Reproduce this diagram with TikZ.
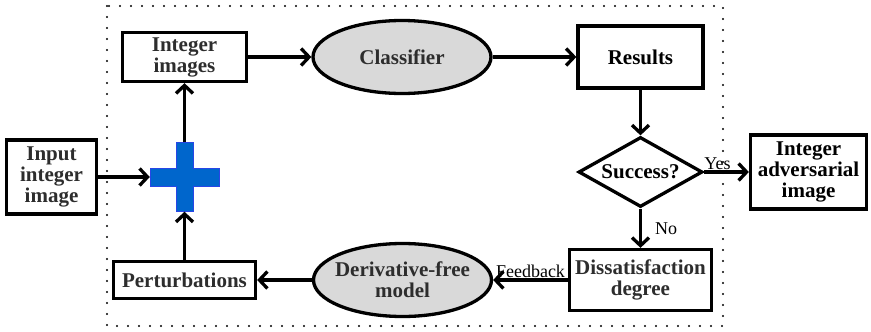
\documentclass[tikz,border=0pt]{standalone}
\usepackage{fontspec}
\setmainfont{Liberation Serif}
\usetikzlibrary{arrows.meta, shapes.geometric}
\definecolor{crossblue}{RGB}{0,102,204}
\definecolor{crossedge}{RGB}{40,70,230}
\definecolor{blobgray}{RGB}{217,217,217}
\definecolor{textgray}{RGB}{45,45,45}

\begin{document}
\begin{tikzpicture}[x=1pt, y=-1pt,
    box/.style={draw, rectangle, line width=3.3pt, align=center, inner sep=0pt,
        font=\fontsize{21}{21}\selectfont\bfseries, text=textgray},
    blob/.style={draw, ellipse, line width=3.3pt, fill=blobgray, align=center,
        inner xsep=-5pt, inner ysep=0pt, minimum width=178pt, minimum height=73pt,
        font=\fontsize{21}{21}\selectfont\bfseries, text=textgray},
    decision/.style={draw, diamond, aspect=1.77, line width=3.3pt, inner sep=0pt,
        minimum width=124pt, minimum height=70pt,
        font=\fontsize{21}{21}\selectfont\bfseries},
    arr/.style={-{Straight Barb[length=8pt,width=17pt]}, line width=3.3pt},
    lbl/.style={font=\fontsize{18}{18}\selectfont, inner sep=1pt}]
    \useasboundingbox (0,0) rectangle (871,332);
    \draw[line width=2.4pt, dash pattern=on 0pt off 11pt, line cap=round] (107,6) rectangle (723,326);

    \node[box, minimum width=90pt, minimum height=74pt] at (51.5, 177) (input) {Input\\integer\\image};
    \node[inner sep=0pt, minimum size=69pt] at (184.5, 177) (plus) {};
    \filldraw[fill=crossblue, draw=crossedge, line width=0.8pt] (plus.center) ++(-34.5,-9)
        -- ++(26,0) -- ++(0,-25.5) -- ++(17,0) -- ++(0,25.5) -- ++(26,0) -- ++(0,18)
        -- ++(-26,0) -- ++(0,25.5) -- ++(-17,0) -- ++(0,-25.5) -- ++(-26,0) -- cycle;
    \node[box, minimum width=124pt, minimum height=49pt] at (184.5, 57) (intimg) {Integer\\images};
    \node[blob] at (402, 57) (clf) {Classifier};
    \node[box, minimum width=125pt, minimum height=62pt, text=black] at (640.5, 57) (results) {Results};
    \node[decision] at (640.5, 172) (success) {Success?};
    \node[box, minimum width=116pt, minimum height=74pt, text=black] at (808.5, 172) (advimg) {Integer\\adversarial\\image};
    \node[box, minimum width=142pt, minimum height=61pt] at (640.5, 280) (dissat) {Dissatisfaction\\degree};
    \node[blob] at (402.5, 280) (dfm) {Derivative-free\\model};
    \node[box, minimum width=142pt, minimum height=37pt] at (184.5, 280) (perturb) {Perturbations};

    \draw[arr] (input) -- (plus.west);
    \draw[arr] (plus.north) -- (intimg);
    \draw[arr] (intimg) -- (clf);
    \draw[arr] (clf) -- (results);
    \draw[arr] (results) -- (success);
    \draw[arr] (success) -- node[lbl, above, pos=0.3] {Yes} (advimg);
    \draw[arr] (success) -- node[lbl, right, xshift=12pt] {No} (dissat);
    \draw[arr] (dissat) -- node[lbl, above] {Feedback} (dfm);
    \draw[arr] (dfm) -- (perturb);
    \draw[arr] (perturb) -- (plus.south);
\end{tikzpicture}
\end{document}
